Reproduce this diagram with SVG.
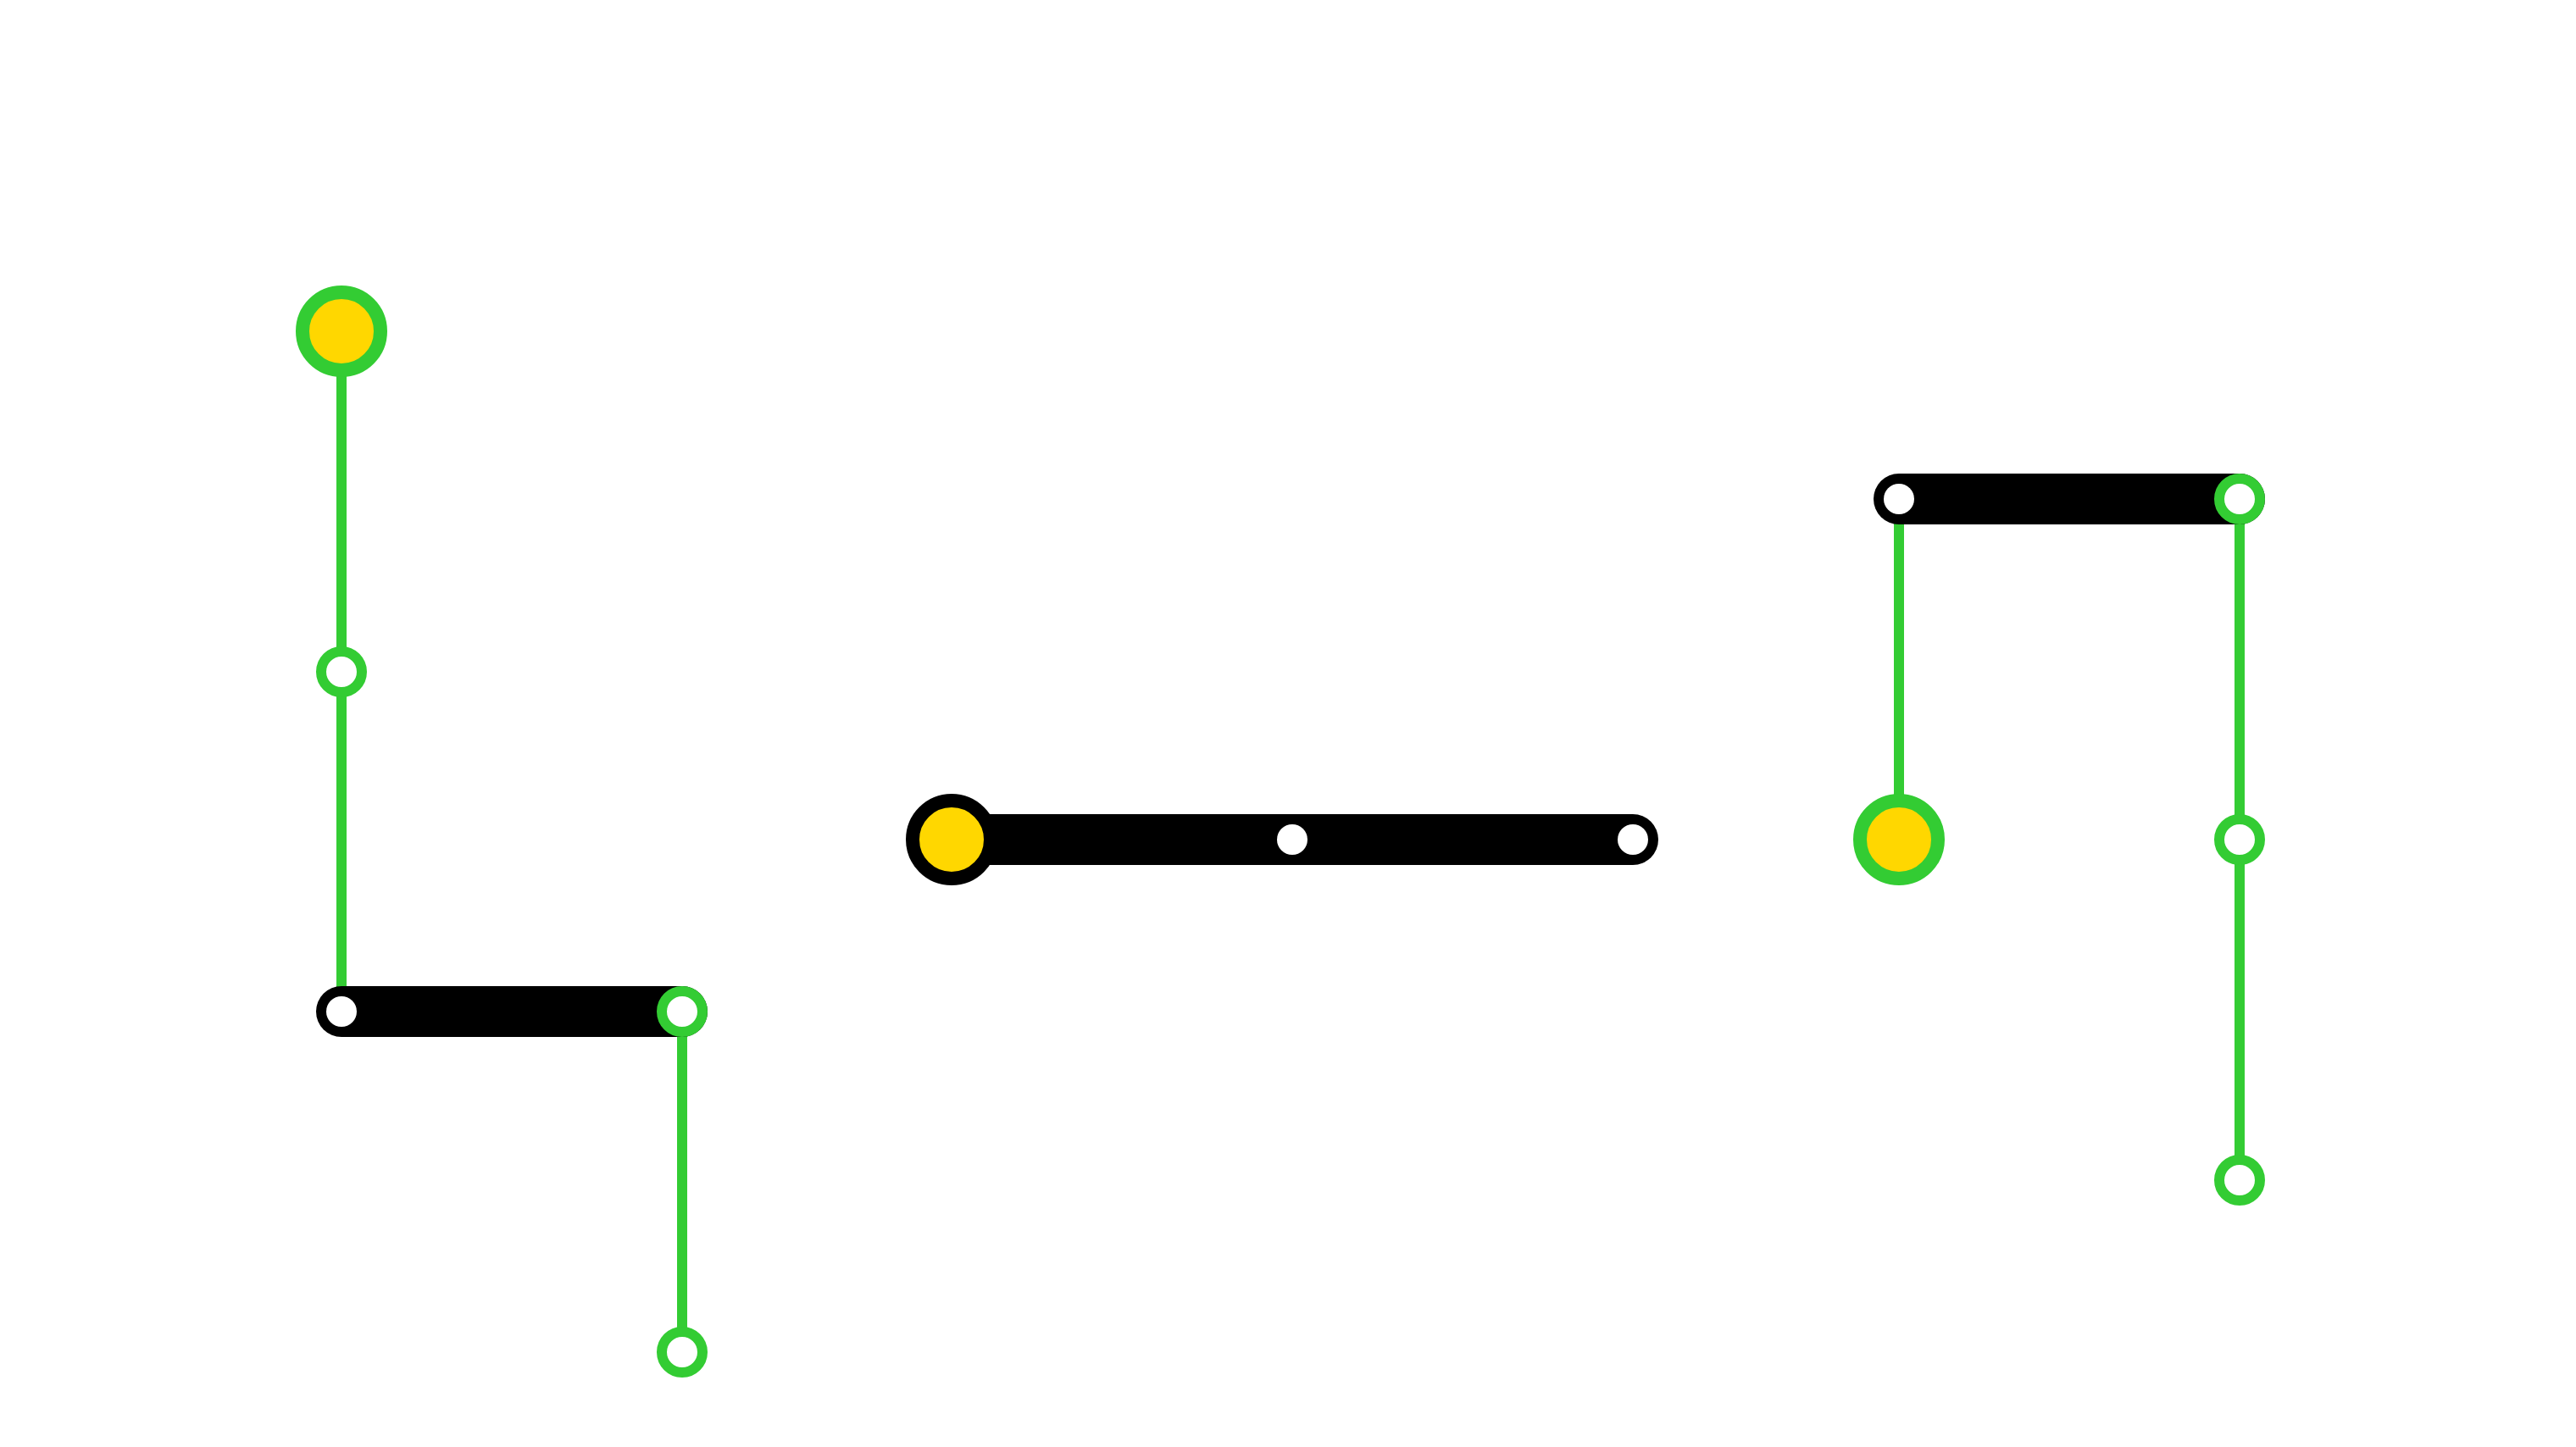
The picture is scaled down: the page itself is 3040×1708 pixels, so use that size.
<svg xmlns="http://www.w3.org/2000/svg" width="3040" height="1708" viewBox="0 0 3040 1708">
<style>
.g{stroke:#33cc33;stroke-width:12;fill:none}
.b{stroke:#000;stroke-width:60;stroke-linecap:round;fill:none}
.big{stroke-width:16;fill:#ffd700}
.sm{stroke:#33cc33;stroke-width:12;fill:#fff}
.w{fill:#fff}
</style>
<rect width="3040" height="1708" fill="#fff"/>
<g id="connectors">
<line class="g" x1="403" y1="391" x2="403" y2="1194"/>
<line class="g" x1="805" y1="1194" x2="805" y2="1596"/>
<line class="b" x1="403" y1="1194" x2="805" y2="1194"/>
<line class="b" x1="1123" y1="991" x2="1927" y2="991"/>
<line class="g" x1="2241" y1="589" x2="2241" y2="991"/>
<line class="g" x1="2643" y1="589" x2="2643" y2="1393"/>
<line class="b" x1="2241" y1="589" x2="2643" y2="589"/>
</g>
<g id="n1"><circle class="big" cx="403" cy="391" r="46" stroke="#33cc33"/></g>
<g id="n2"><circle class="sm" cx="403" cy="793" r="24"/></g>
<g id="n3"><circle class="w" cx="403" cy="1194" r="18"/></g>
<g id="n4"><circle class="sm" cx="805" cy="1194" r="24"/></g>
<g id="n5"><circle class="sm" cx="805" cy="1596" r="24"/></g>
<g id="n6"><circle class="big" cx="1123" cy="991" r="46" stroke="#000"/></g>
<g id="n7"><circle class="w" cx="1525" cy="991" r="18"/></g>
<g id="n8"><circle class="w" cx="1927" cy="991" r="18"/></g>
<g id="n9"><circle class="w" cx="2241" cy="589" r="18"/></g>
<g id="n10"><circle class="sm" cx="2643" cy="589" r="24"/></g>
<g id="n11"><circle class="big" cx="2241" cy="991" r="46" stroke="#33cc33"/></g>
<g id="n12"><circle class="sm" cx="2643" cy="991" r="24"/></g>
<g id="n13"><circle class="sm" cx="2643" cy="1393" r="24"/></g>
</svg>
